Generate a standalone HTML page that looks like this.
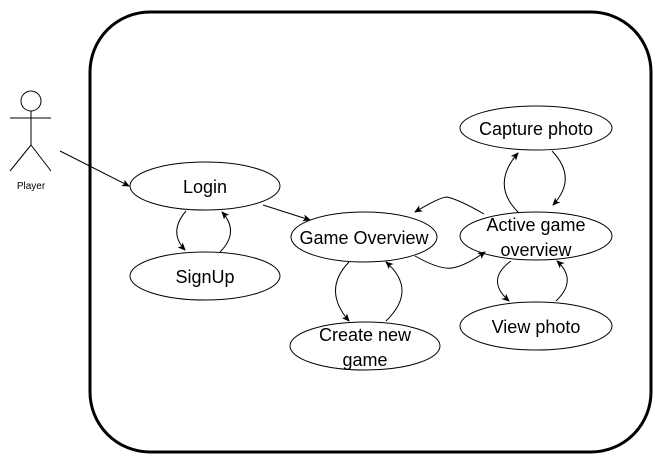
<!DOCTYPE html>
<html><head><style>body{margin:0;background:#fff}svg{display:block}</style></head><body>
<svg width="662" height="463" xmlns="http://www.w3.org/2000/svg" font-family="Liberation Sans, sans-serif">
<defs><marker id="a" markerWidth="8" markerHeight="8" refX="7" refY="4" orient="auto" markerUnits="userSpaceOnUse"><path d="M0,0.5 L8,4 L0,7.5 L2,4Z" fill="#000"/></marker></defs>
<rect x="90" y="12" width="561" height="440" rx="60" fill="#fff" stroke="#000" stroke-width="3"/>
<g stroke="#000" fill="none" stroke-width="1">
<circle cx="31" cy="101" r="10"/>
<line x1="31" y1="111" x2="31" y2="145"/><line x1="10" y1="118" x2="51" y2="118"/>
<line x1="31" y1="145" x2="10" y2="171"/><line x1="31" y1="145" x2="51" y2="171"/>
<ellipse cx="205" cy="186" rx="75" ry="24"/>
<ellipse cx="205" cy="276" rx="75" ry="24"/>
<ellipse cx="364" cy="237" rx="73" ry="25"/>
<ellipse cx="365" cy="346" rx="75" ry="24"/>
<ellipse cx="536" cy="128" rx="76" ry="22"/>
<ellipse cx="536" cy="236" rx="76" ry="24"/>
<ellipse cx="536" cy="326" rx="76" ry="24"/>
<g marker-end="url(#a)">
<path d="M60,151 L129,186"/>
<path d="M263,205 L310,220"/>
<path d="M186,211 Q168,232 185,250"/>
<path d="M220,252 Q240,232 222,212"/>
<path d="M349,262 Q322,290 349,321"/>
<path d="M386,321 Q418,290 386,262"/>
<path d="M484,214 Q460,200 447,197 Q440,197 415,212"/>
<path d="M415,256 Q440,270 452,268 Q465,266 485,252"/>
<path d="M519,213 Q490,185 518,153"/>
<path d="M552,151 Q578,178 553,205"/>
<path d="M511,261 Q485,280 509,301"/>
<path d="M556,301 Q578,280 557,261"/>
</g></g>
<g font-size="18" text-anchor="middle" fill="#000">
<text x="205" y="193">Login</text>
<text x="205" y="283">SignUp</text>
<text x="364" y="244">Game Overview</text>
<text x="365" y="341">Create new</text><text x="365" y="366">game</text>
<text x="536" y="135">Capture photo</text>
<text x="536" y="231">Active game</text><text x="536" y="256">overview</text>
<text x="536" y="333">View photo</text>
</g>
<text x="31" y="189" font-size="10" text-anchor="middle">Player</text>
</svg>
</body></html>
